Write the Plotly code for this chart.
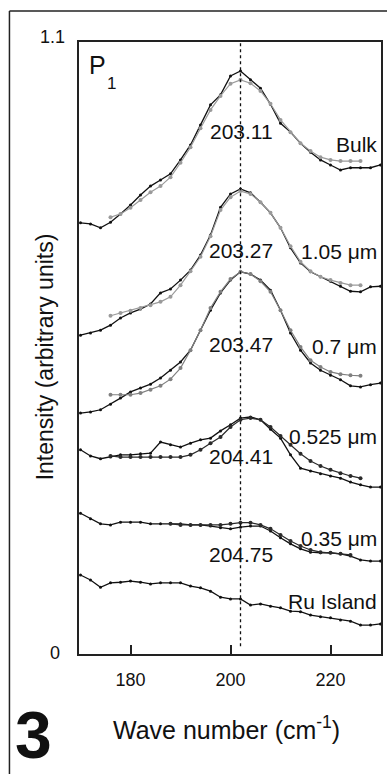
import plotly.graph_objects as go

# Wave numbers (cm^-1)
x_data = list(range(170, 231, 2))
x_fit = list(range(176, 227, 2))
x_fit_035 = list(range(188, 225, 2))

bulk_data = [0.775, 0.773, 0.766, 0.776, 0.791, 0.807, 0.825, 0.841, 0.852, 0.863, 0.888,
             0.915, 0.951, 0.987, 1.005, 1.039, 1.048, 1.032, 1.017, 0.988, 0.954, 0.938,
             0.918, 0.902, 0.888, 0.879, 0.870, 0.874, 0.874, 0.874, 0.879]
bulk_fit = [0.785, 0.791, 0.802, 0.816, 0.830, 0.841, 0.857, 0.883, 0.911, 0.945, 0.978,
            1.003, 1.025, 1.032, 1.026, 1.012, 0.989, 0.960, 0.938, 0.918, 0.904, 0.893,
            0.888, 0.886, 0.886, 0.886]

um105_data = [0.573, 0.577, 0.582, 0.591, 0.604, 0.613, 0.620, 0.629, 0.649, 0.656, 0.672,
              0.690, 0.717, 0.753, 0.803, 0.827, 0.836, 0.829, 0.812, 0.793, 0.766, 0.730,
              0.703, 0.687, 0.678, 0.670, 0.661, 0.652, 0.651, 0.660, 0.661]
um105_fit = [0.608, 0.613, 0.617, 0.622, 0.627, 0.633, 0.642, 0.663, 0.688, 0.714, 0.751,
             0.798, 0.821, 0.832, 0.827, 0.812, 0.793, 0.766, 0.733, 0.705, 0.688, 0.678,
             0.672, 0.667, 0.663, 0.663]

um07_data = [0.433, 0.435, 0.439, 0.449, 0.460, 0.471, 0.478, 0.485, 0.496, 0.510, 0.525,
             0.546, 0.582, 0.618, 0.649, 0.672, 0.687, 0.683, 0.672, 0.654, 0.618, 0.577,
             0.546, 0.523, 0.510, 0.501, 0.493, 0.482, 0.480, 0.484, 0.487]
um07_fit = [0.466, 0.466, 0.466, 0.469, 0.475, 0.482, 0.494, 0.514, 0.546, 0.582, 0.622,
            0.651, 0.674, 0.687, 0.683, 0.670, 0.651, 0.618, 0.582, 0.552, 0.528, 0.516,
            0.507, 0.503, 0.501, 0.500]

um0525_data = [0.367, 0.356, 0.351, 0.354, 0.358, 0.358, 0.360, 0.361, 0.381, 0.376, 0.372,
               0.379, 0.385, 0.388, 0.401, 0.412, 0.424, 0.426, 0.421, 0.404, 0.388, 0.358,
               0.334, 0.329, 0.324, 0.320, 0.316, 0.309, 0.304, 0.300, 0.300]
um0525_fit = [0.356, 0.354, 0.354, 0.354, 0.354, 0.354, 0.354, 0.354, 0.358, 0.367, 0.379,
              0.390, 0.408, 0.421, 0.424, 0.421, 0.408, 0.392, 0.376, 0.360, 0.347, 0.338,
              0.331, 0.325, 0.320, 0.316]

um035_data = [0.253, 0.243, 0.234, 0.232, 0.237, 0.237, 0.237, 0.234, 0.234, 0.234, 0.234,
              0.232, 0.232, 0.230, 0.227, 0.225, 0.228, 0.230, 0.230, 0.221, 0.209, 0.198,
              0.189, 0.183, 0.182, 0.182, 0.180, 0.176, 0.169, 0.167, 0.167]
um035_fit = [0.234, 0.232, 0.232, 0.232, 0.232, 0.232, 0.234, 0.236, 0.236, 0.232, 0.225,
             0.214, 0.203, 0.194, 0.187, 0.183, 0.182, 0.180, 0.178]

ru_data = [0.142, 0.133, 0.120, 0.128, 0.129, 0.131, 0.129, 0.126, 0.128, 0.128, 0.128,
           0.122, 0.119, 0.113, 0.102, 0.099, 0.099, 0.088, 0.090, 0.086, 0.083, 0.077,
           0.076, 0.070, 0.067, 0.065, 0.061, 0.059, 0.052, 0.052, 0.054]

peak_pos = 202
series_labels = ["Bulk", "1.05 μm", "0.7 μm", "0.525 μm", "0.35 μm", "Ru Island"]
label_y = [0.832, 0.657, 0.503, 0.355, 0.188, 0.085]
peak_labels = ["203.11", "203.27", "203.47", "204.41", "204.75"]
peak_label_y = [0.853, 0.660, 0.505, 0.322, 0.163]

FONT = "Liberation Sans, Arial, Helvetica, sans-serif"

fig = go.Figure()

data_sets = [bulk_data, um105_data, um07_data, um0525_data, um035_data, ru_data]
fits = [(x_fit, bulk_fit, "#9a9a9a"), (x_fit, um105_fit, "#9a9a9a"), (x_fit, um07_fit, "#808080"),
        (x_fit, um0525_fit, "#2a2a2a"), (x_fit_035, um035_fit, "#2a2a2a")]

for d in data_sets:
    fig.add_trace(go.Scatter(x=x_data, y=d, mode="lines+markers",
                             line=dict(color="#111", width=1.3),
                             marker=dict(color="#111", size=3), showlegend=False,
                             hoverinfo="skip"))
for fx, fy, col in fits:
    fig.add_trace(go.Scatter(x=fx, y=fy, mode="lines+markers",
                             line=dict(color=col, width=1.2),
                             marker=dict(color=col, size=4), showlegend=False,
                             hoverinfo="skip"))

shapes = [
    dict(type="line", xref="x", yref="y", x0=peak_pos, x1=peak_pos, y0=0.014, y1=1.1,
         line=dict(color="#111", width=1.3, dash="dot")),
    # outer frame (top and left)
    dict(type="line", xref="paper", yref="paper", x0=-0.2303, x1=1.02, y0=1.0507, y1=1.0507,
         line=dict(color="#222", width=1.5)),
    dict(type="line", xref="paper", yref="paper", x0=-0.2303, x1=-0.2303, y0=-0.2, y1=1.0507,
         line=dict(color="#222", width=1.5)),
]

ann = []
for t, yy in zip(series_labels, label_y):
    ann.append(dict(text=t, xref="paper", yref="paper", x=0.992, y=yy, xanchor="right",
                    yanchor="middle", showarrow=False, font=dict(size=21, color="#111", family=FONT)))
for t, yy in zip(peak_labels, peak_label_y):
    ann.append(dict(text=t, xref="paper", yref="paper", x=0.538, y=yy, xanchor="center",
                    yanchor="middle", showarrow=False, font=dict(size=21, color="#111", family=FONT)))
ann += [
    dict(text="P", xref="paper", yref="paper", x=0.061, y=0.962, xanchor="center", yanchor="middle",
         showarrow=False, font=dict(size=25, color="#111", family=FONT)),
    dict(text="1", xref="paper", yref="paper", x=0.107, y=0.932, xanchor="center", yanchor="middle",
         showarrow=False, font=dict(size=17, color="#111", family=FONT)),
    dict(text="1.1", xref="paper", yref="paper", x=-0.039, y=1.0085, xanchor="right", yanchor="middle",
         showarrow=False, font=dict(size=18, color="#111", family=FONT)),
    dict(text="0", xref="paper", yref="paper", x=-0.056, y=0.0016, xanchor="right", yanchor="middle",
         showarrow=False, font=dict(size=18, color="#111", family=FONT)),
    dict(text="Wave number (cm<sup>-1</sup>)", xref="paper", yref="paper", x=0.487, y=-0.121,
         xanchor="center", yanchor="middle", showarrow=False,
         font=dict(size=25, color="#111", family=FONT)),
    dict(text="Intensity (arbitrary units)", xref="paper", yref="paper", x=-0.112, y=0.485,
         xanchor="center", yanchor="middle", textangle=-90, showarrow=False,
         font=dict(size=23, color="#111", family=FONT)),
    dict(text="<b>3</b>", xref="paper", yref="paper", x=-0.151, y=-0.196, xanchor="center",
         yanchor="bottom", showarrow=False, font=dict(size=66, color="#111", family=FONT)),
]

fig.update_layout(
    width=387, height=774,
    margin=dict(l=79, r=4, t=42, b=120),
    paper_bgcolor="white", plot_bgcolor="white",
    shapes=shapes, annotations=ann,
    xaxis=dict(range=[169.7, 230.1], tickvals=[180, 200, 220], ticks="inside", ticklen=9,
               tickwidth=1.5, tickcolor="#222", showline=True, linecolor="#222", linewidth=2,
               mirror=True, showgrid=False, zeroline=False,
               tickfont=dict(size=18, color="#111", family=FONT), ticklabelstandoff=8),
    yaxis=dict(range=[0, 1.1], showticklabels=False, ticks="", showline=True,
               linecolor="#222", linewidth=2, mirror=True, showgrid=False, zeroline=False),
)

fig.write_html("out.html", config={"displayModeBar": False},
               post_script="document.body.style.margin='0px';document.body.style.overflow='hidden';")
